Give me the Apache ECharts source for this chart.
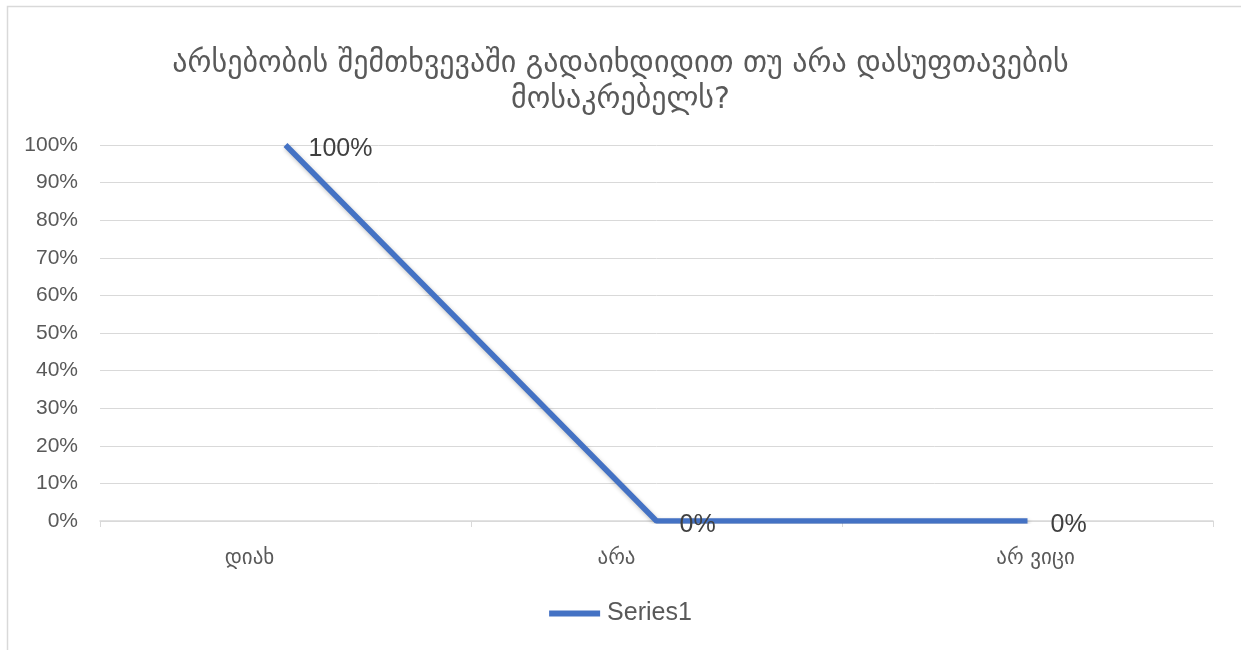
<!DOCTYPE html>
<html><head><meta charset="utf-8">
<script src="https://cdn.jsdelivr.net/npm/echarts@6/dist/echarts.min.js"></script>
<style>html,body{margin:0;padding:0;background:#fff}#c{width:1241px;height:650px}</style>
</head><body><div id="c"></div>
<script>
const titleText = 'არსებობის შემთხვევაში გადაიხდიდით თუ არა დასუფთავების\nმოსაკრებელს?';
const categories = ['დიახ', 'არა', 'არ ვიცი'];
const seriesName = 'Series1';
const values = [1.0, 0, 0];
const yTicks = { min: 0, max: 1, interval: 0.1 };

// visual nudges of the category labels as seen in the reference (style only)
const labelPad = [[0, 72, 0, 0], [0, 80, 0, 0], [0, 0, 0, 16]];

const chart = echarts.init(document.getElementById('c'), null, { renderer: 'canvas' });
chart.setOption({
  animation: false,
  backgroundColor: '#fff',
  graphic: [{
    type: 'rect', left: 5, top: 4, z: -1,
    shape: { x: 0, y: 0, width: 1300, height: 700 },
    style: { fill: 'none', stroke: '#d9d9d9', lineWidth: 1.5 }
  }],
  title: {
    text: titleText, left: 'center', top: 41,
    textStyle: { fontFamily: 'DejaVu Sans, Noto Sans', fontSize: 30, fontWeight: 'normal', color: '#595959', lineHeight: 36 }
  },
  legend: {
    bottom: 19, left: 'center',
    itemWidth: 51, itemHeight: 6, itemGap: 4,
    icon: 'rect',
    textStyle: { fontFamily: 'Liberation Sans, Arial', fontSize: 25, color: '#595959', padding: [0, 0, 0, 2] },
    data: [seriesName]
  },
  grid: { left: 100, right: 28, top: 145, bottom: 129 },
  xAxis: {
    type: 'category', data: categories, boundaryGap: true,
    axisLine: { lineStyle: { color: '#d9d9d9', width: 1.5 } },
    axisTick: { show: true, length: 6, lineStyle: { color: '#d9d9d9' } },
    axisLabel: {
      margin: 27, fontFamily: 'DejaVu Sans, Noto Sans', fontSize: 21, color: '#595959',
      formatter: (v, i) => '{l' + i + '|' + v + '}',
      rich: {
        l0: { padding: labelPad[0], fontFamily: 'DejaVu Sans, Noto Sans', fontSize: 21, color: '#595959' },
        l1: { padding: labelPad[1], fontFamily: 'DejaVu Sans, Noto Sans', fontSize: 21, color: '#595959' },
        l2: { padding: labelPad[2], fontFamily: 'DejaVu Sans, Noto Sans', fontSize: 21, color: '#595959' }
      }
    }
  },
  yAxis: {
    type: 'value', min: yTicks.min, max: yTicks.max, interval: yTicks.interval,
    axisLine: { show: false }, axisTick: { show: false },
    splitLine: { lineStyle: { color: '#d9d9d9', width: 1 } },
    axisLabel: { margin: 22, fontFamily: 'Liberation Sans, Arial', fontSize: 21, color: '#595959',
      formatter: v => Math.round(v * 100) + '%' }
  },
  series: [{
    name: seriesName, type: 'line', data: values,
    symbol: 'circle', symbolSize: 0.1, showSymbol: true,
    lineStyle: { color: '#4472C4', width: 5.5, shadowColor: 'rgba(0,0,0,0.25)', shadowBlur: 4, shadowOffsetX: 1, shadowOffsetY: 2 },
    itemStyle: { color: '#4472C4' },
    label: {
      show: true, position: 'right', distance: 23,
      fontFamily: 'Liberation Sans, Arial', fontSize: 25, color: '#404040',
      offset: [0, 4],
      formatter: p => Math.round(p.value * 100) + '%'
    }
  }]
});
</script></body></html>
